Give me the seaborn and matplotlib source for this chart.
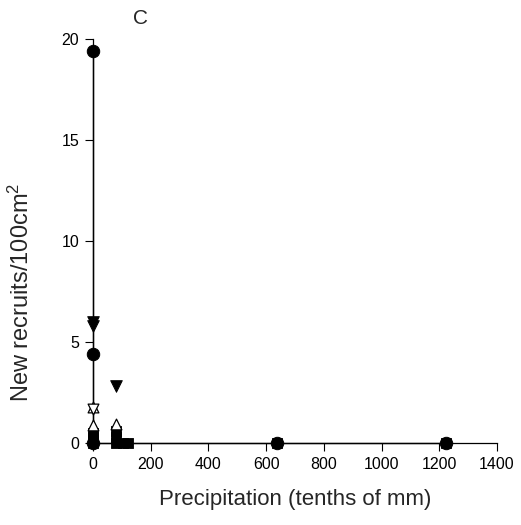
import numpy as np
import pandas as pd
import matplotlib
matplotlib.use("Agg")
import matplotlib.pyplot as plt
import seaborn as sns

# ── données ──
circle_x = [0, 0, 0, 637, 1222]
circle_y = [19.4, 4.4, 0.0, 0.0, 0.0]

tri_down_x = [0, 0, 80]
tri_down_y = [5.8, 6.0, 2.8]

tri_down_open_x = [0]
tri_down_open_y = [1.7]

tri_up_open_x = [0, 0, 80]
tri_up_open_y = [1.8, 0.9, 0.95]

square_x = [0, 0, 0, 0, 80, 80, 80, 105, 120, 637, 1222]
square_y = [0.5, 0.3, 0.1, 0.0, 0.6, 0.3, 0.0, 0.0, 0.0, 0.0, 0.0]

x_ticks = [0, 200, 400, 600, 800, 1000, 1200, 1400]
y_ticks = [0, 5, 10, 15, 20]

sns.set_style("ticks")
plt.rcParams["font.family"] = ["Liberation Sans", "DejaVu Sans"]
plt.rcParams["mathtext.fontset"] = "custom"
plt.rcParams["mathtext.rm"] = "Liberation Sans"
plt.rcParams["mathtext.it"] = "Liberation Sans"

fig = plt.figure(figsize=(5.21, 5.25), dpi=100)
ax = fig.add_axes([93 / 521, 1 - 443 / 525, (497 - 93) / 521, (443 - 39) / 525])

# ligne reliant la série des cercles
sns.lineplot(x=circle_x, y=circle_y, sort=False, estimator=None, ax=ax,
             color="black", lw=1, clip_on=False)

common = dict(ax=ax, clip_on=False, legend=False, zorder=3)
sns.scatterplot(x=square_x, y=square_y, marker="s", s=60, color="black",
                edgecolor="black", **common)
sns.scatterplot(x=tri_up_open_x, y=tri_up_open_y, marker="^", s=60,
                facecolor="white", edgecolor="black", linewidth=0.9, **common)
sns.scatterplot(x=tri_down_open_x, y=tri_down_open_y, marker="v", s=60,
                facecolor="white", edgecolor="black", linewidth=0.9, **common)
sns.scatterplot(x=tri_down_x, y=tri_down_y, marker="v", s=70, color="black",
                edgecolor="black", **common)
sns.scatterplot(x=circle_x, y=circle_y, marker="o", s=80, color="black",
                edgecolor="black", **common)

ax.set_xlim(0, 1400)
ax.set_ylim(0, 20)
ax.set_xticks(x_ticks)
ax.set_yticks(y_ticks)
sns.despine(ax=ax)
for s in ["left", "bottom"]:
    ax.spines[s].set_color("black")
    ax.spines[s].set_linewidth(0.9)
ax.tick_params(direction="out", length=6, width=0.8, colors="black",
               labelsize=11.5, pad=4)

ax.set_xlabel("Precipitation (tenths of mm)", fontsize=16)
ax.set_ylabel("New recruits/100cm$^2$", fontsize=17)
ax.xaxis.set_label_coords((295 - 93) / 404, -(489 - 443) / 404)
ax.yaxis.set_label_coords((34 - 93) / 404, (443 - 292) / 404)

fig.text(140 / 521, 1 - 18 / 525, "C", fontsize=15, ha="center", va="center")

fig.savefig("out.png", dpi=100)
